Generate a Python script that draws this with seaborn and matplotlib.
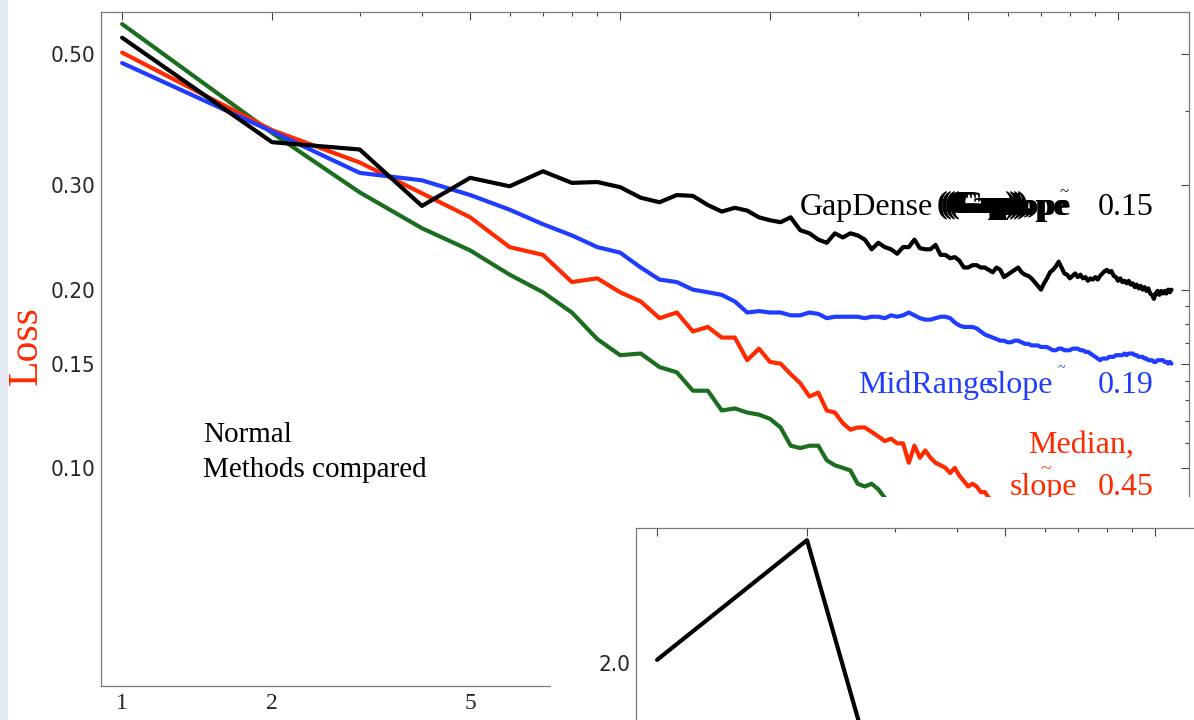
import matplotlib
matplotlib.use('Agg')
import pandas as pd
import matplotlib.pyplot as plt
import seaborn as sns
from matplotlib.patches import Rectangle
from matplotlib.ticker import FixedLocator, FixedFormatter, NullFormatter

# Loss per step for each method
steps = list(range(1, 129))

gap_dense = [0.533, 0.355, 0.345, 0.277, 0.309, 0.299, 0.317, 0.303, 0.304, 0.298,
             0.286, 0.281, 0.289, 0.288, 0.278, 0.271, 0.275, 0.272, 0.265, 0.262,
             0.260, 0.265, 0.252, 0.249, 0.243, 0.240, 0.249, 0.245, 0.249, 0.247,
             0.243, 0.234, 0.240, 0.236, 0.234, 0.230, 0.236, 0.236, 0.243, 0.235,
             0.234, 0.234, 0.238, 0.229, 0.229, 0.226, 0.227, 0.224, 0.218, 0.218,
             0.220, 0.220, 0.218, 0.218, 0.216, 0.214, 0.218, 0.216, 0.210, 0.212,
             0.214, 0.216, 0.218, 0.214, 0.212, 0.211, 0.209, 0.206, 0.203, 0.200,
             0.205, 0.209, 0.214, 0.216, 0.219, 0.223, 0.218, 0.213, 0.212, 0.209,
             0.211, 0.213, 0.210, 0.212, 0.209, 0.210, 0.207, 0.209, 0.208, 0.210,
             0.208, 0.211, 0.213, 0.215, 0.216, 0.214, 0.215, 0.211, 0.210, 0.207,
             0.209, 0.206, 0.207, 0.205, 0.207, 0.204, 0.205, 0.202, 0.204, 0.201,
             0.203, 0.200, 0.202, 0.199, 0.201, 0.197, 0.196, 0.193, 0.197, 0.199,
             0.196, 0.199, 0.197, 0.199, 0.197, 0.200, 0.198, 0.200]

mid_range = [0.483, 0.370, 0.315, 0.306, 0.289, 0.273, 0.258, 0.247, 0.236, 0.231,
             0.218, 0.208, 0.206, 0.200, 0.198, 0.196, 0.191, 0.183, 0.184, 0.183,
             0.183, 0.181, 0.181, 0.183, 0.182, 0.179, 0.180, 0.180, 0.180, 0.180,
             0.179, 0.180, 0.180, 0.179, 0.181, 0.180, 0.181, 0.183, 0.181, 0.179,
             0.178, 0.178, 0.179, 0.180, 0.180, 0.179, 0.176, 0.174, 0.173, 0.173,
             0.173, 0.172, 0.170, 0.168, 0.167, 0.166, 0.165, 0.164, 0.164, 0.163,
             0.163, 0.164, 0.164, 0.163, 0.162, 0.162, 0.161, 0.161, 0.161, 0.160,
             0.160, 0.160, 0.159, 0.158, 0.158, 0.159, 0.159, 0.158, 0.158, 0.158,
             0.159, 0.159, 0.159, 0.158, 0.158, 0.157, 0.157, 0.156, 0.155, 0.154,
             0.153, 0.152, 0.153, 0.153, 0.153, 0.154, 0.154, 0.154, 0.155, 0.155,
             0.155, 0.155, 0.156, 0.155, 0.156, 0.156, 0.156, 0.155, 0.155, 0.154,
             0.154, 0.154, 0.153, 0.153, 0.152, 0.152, 0.152, 0.151, 0.151, 0.152,
             0.152, 0.152, 0.152, 0.151, 0.151, 0.150, 0.151, 0.150]

median = [0.503, 0.372, 0.328, 0.291, 0.265, 0.236, 0.229, 0.206, 0.209, 0.198,
          0.191, 0.179, 0.183, 0.170, 0.173, 0.166, 0.166, 0.152, 0.159, 0.151,
          0.150, 0.144, 0.139, 0.132, 0.134, 0.125, 0.124, 0.119, 0.116, 0.117,
          0.117, 0.115, 0.113, 0.111, 0.112, 0.110, 0.110, 0.102, 0.109, 0.104,
          0.107, 0.104, 0.102, 0.101, 0.100, 0.098, 0.100, 0.097, 0.095, 0.093,
          0.094, 0.093, 0.091, 0.091, 0.089, 0.088, 0.087]

normal = [0.562, 0.368, 0.292, 0.254, 0.233, 0.212, 0.198, 0.183, 0.165, 0.155,
          0.156, 0.148, 0.145, 0.135, 0.135, 0.125, 0.126, 0.124, 0.123, 0.121,
          0.117, 0.109, 0.108, 0.109, 0.109, 0.103, 0.101, 0.100, 0.099, 0.094,
          0.093, 0.094, 0.092, 0.089, 0.087, 0.086]

method_names = ['Normal', 'Median', 'MidRange', 'GapDense']
method_colors = ['#1b6e20', '#ff2a00', '#1f3dff', '#000000']

inset_steps = [1, 2, 3]
inset_values = [2.007, 2.273, 1.59]

y_major = [0.10, 0.15, 0.20, 0.30, 0.50]
y_major_labels = ['0.10', '0.15', '0.20', '0.30', '0.50']
y_minor = [0.11, 0.12, 0.13, 0.14, 0.1625, 0.175, 0.1875, 0.4]
x_major = [1, 2, 5, 10, 20, 50, 100]
x_major_labels = ['1', '2', '5', '10', '20', '50', '100']
x_minor = [3, 4, 6, 7, 8, 9, 30, 40, 60, 70, 80, 90]

series = [normal, median, mid_range, gap_dense]
df = pd.concat([pd.DataFrame({'step': steps[:len(v)], 'loss': v, 'method': m})
                for m, v in zip(method_names, series)], ignore_index=True)

sns.set_theme(style='white')
plt.rcParams['font.family'] = ['Liberation Serif', 'DejaVu Serif']
narrow = ['DejaVu Sans']
serif = ['Liberation Serif', 'DejaVu Serif']

W, H = 1194, 720
fig = plt.figure(figsize=(W / 100, H / 100), dpi=100, facecolor='white')


def fx(x):
    return x / W


def fy(y):
    return 1 - y / H


def style_axes(a):
    for s in a.spines.values():
        s.set_color('#7a7a7a')
        s.set_linewidth(0.9)
    a.tick_params(which='both', direction='in', top=True, right=True,
                  color='#444444', width=0.8)
    a.tick_params(which='major', length=5.8)
    a.tick_params(which='minor', length=2.9)
    a.set_xscale('log')
    a.xaxis.set_major_locator(FixedLocator(x_major))
    a.xaxis.set_major_formatter(FixedFormatter(x_major_labels))
    a.xaxis.set_minor_locator(FixedLocator(x_minor))
    a.xaxis.set_minor_formatter(NullFormatter())
    a.set_xlim(0.907, 138.8)
    a.tick_params(axis='x', labelsize=17, pad=5)
    a.tick_params(axis='y', labelsize=16, pad=4)
    for t in a.get_xticklabels():
        t.set_family(serif)
    a.set_xlabel('')
    a.set_ylabel('')


def narrow_labels(a):
    for t in a.get_yticklabels():
        t.set_family(narrow)
        t.set_fontstretch('condensed')


# main plot
ax = fig.add_axes([fx(101), fy(686), fx(1189) - fx(101), fy(12) - fy(686)], zorder=0)
sns.lineplot(data=df, x='step', y='loss', hue='method', hue_order=method_names,
             palette=method_colors, lw=3, legend=False, sort=False,
             estimator=None, ax=ax)
ax.set_yscale('log')
ax.set_ylim(0.0428, 0.589)
ax.yaxis.set_major_locator(FixedLocator(y_major))
ax.yaxis.set_major_formatter(FixedFormatter(y_major_labels))
ax.yaxis.set_minor_locator(FixedLocator(y_minor))
ax.yaxis.set_minor_formatter(NullFormatter())
style_axes(ax)
narrow_labels(ax)

fig.text(fx(26), fy(346), 'Loss', rotation=90, ha='center', va='center',
         fontsize=30, color='#ff2a00', family=serif)


# annotations (drawn inside the main axes so the inset panel covers them)
def label(x, y, s, color='black', size=23, **kw):
    ax.text(fx(x), fy(y), s, transform=fig.transFigure, color=color,
            fontsize=size, family=serif, va='baseline', ha='left', **kw)


label(203, 442, 'Normal', size=21)
label(203, 477, 'Methods compared', size=21)

label(800, 215, 'GapDense')
for dx in (0, 4, 8, 12):
    label(937 + dx, 213, '(Gap),', weight='bold')
for dx in (0, 3):
    label(998 + dx, 215, 'slope', weight='bold')
label(1060, 196, '~', size=12)
label(1098, 215, '0.15')

label(858, 393, 'MidRange', color='#1f3dff')
label(986, 393, 'slope', color='#1f3dff')
label(1058, 372, '~', color='#1f3dff', size=10)
label(1098, 393, '0.19', color='#1f3dff')

label(1028, 453, 'Median,', color='#ff2a00')
label(1010, 495, 'slope', color='#ff2a00')
label(1040, 474, '~', color='#ff2a00', size=14)
label(1098, 495, '0.45', color='#ff2a00')

# white panel of the inset graphic and the light strip on the left edge
fig.add_artist(Rectangle((fx(551), 0), 1 - fx(551), fy(497), transform=fig.transFigure,
                         facecolor='white', edgecolor='none', zorder=1))
fig.add_artist(Rectangle((0, 0), fx(8), 1, transform=fig.transFigure,
                         facecolor='#e3eaf4', edgecolor='none', zorder=1))

# inset
ax_in = fig.add_axes([fx(636), fy(1202), fx(1724) - fx(636), fy(528) - fy(1202)], zorder=2)
ax_in.set_facecolor('white')
sns.lineplot(x=inset_steps, y=inset_values, color='black', lw=3, ax=ax_in)
ax_in.set_ylim(0.802, 2.3)
ax_in.yaxis.set_major_locator(FixedLocator([1.0, 2.0]))
ax_in.yaxis.set_major_formatter(FixedFormatter(['1.0', '2.0']))
ax_in.yaxis.set_minor_locator(FixedLocator([1.2, 1.4, 1.6, 1.8, 2.2]))
style_axes(ax_in)
narrow_labels(ax_in)

fig.savefig('out.png', dpi=100, facecolor='white')
